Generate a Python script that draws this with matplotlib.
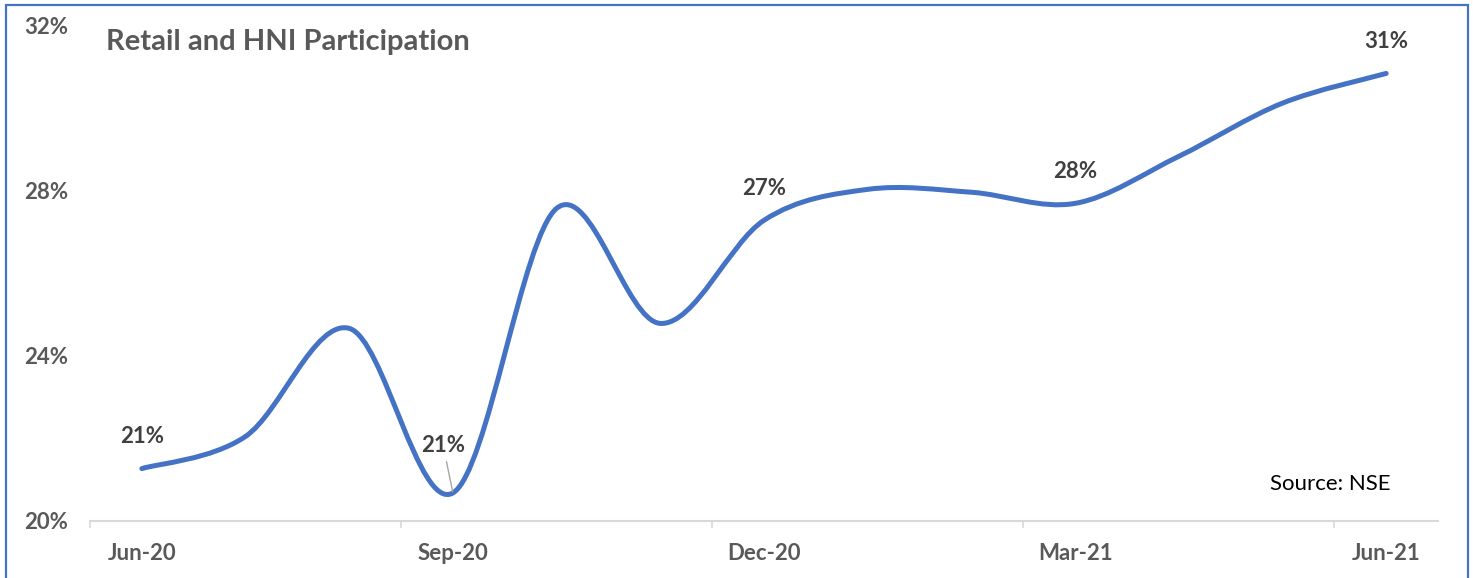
import matplotlib
matplotlib.use("Agg")
import matplotlib.pyplot as plt
from matplotlib.path import Path
from matplotlib.patches import PathPatch, Rectangle

plt.rcParams["font.family"] = ["Lato", "DejaVu Sans"]

months = ["Jun-20", "Jul-20", "Aug-20", "Sep-20", "Oct-20", "Nov-20", "Dec-20",
          "Jan-21", "Feb-21", "Mar-21", "Apr-21", "May-21", "Jun-21"]
participation = [21.27, 22.05, 24.67, 20.68, 27.58, 24.79, 27.29,
                 28.04, 27.97, 27.70, 28.84, 30.13, 30.85]
labelled = [0, 3, 6, 9, 12]
tick_months = [0, 3, 6, 9, 12]

LINE = "#4472C4"
GREY = "#595959"
DARK = "#404040"
AXIS = "#D9D9D9"

W, H = 1473, 578
fig = plt.figure(figsize=(W / 100, H / 100), dpi=100)
ax = fig.add_axes([90 / W, 1 - 521 / H, (1438 - 90) / W, (521 - 26) / H])

# smoothed line (Excel style bezier through the points)
xs = list(range(len(participation)))
pts = list(zip(xs, participation))
verts = [pts[0]]
codes = [Path.MOVETO]
for i in range(len(pts) - 1):
    p0 = pts[max(i - 1, 0)]
    p1 = pts[i]
    p2 = pts[i + 1]
    p3 = pts[min(i + 2, len(pts) - 1)]
    c1 = (p1[0] + (p2[0] - p0[0]) / 6, p1[1] + (p2[1] - p0[1]) / 6)
    c2 = (p2[0] - (p3[0] - p1[0]) / 6, p2[1] - (p3[1] - p1[1]) / 6)
    verts += [c1, c2, p2]
    codes += [Path.CURVE4] * 3
ax.add_patch(PathPatch(Path(verts, codes), fill=False, edgecolor=LINE,
                       lw=3.6, capstyle="round", joinstyle="round"))

for i in labelled:
    txt = f"{participation[i]:.0f}%"
    if i == 3:
        ax.annotate(txt, (xs[i], participation[i]), xytext=(-7, 34),
                    textcoords="offset points", ha="center", va="center",
                    fontsize=16, fontweight="bold", color=DARK,
                    arrowprops=dict(arrowstyle="-", color="#A6A6A6", lw=1,
                                    shrinkA=2, shrinkB=1))
    else:
        ax.annotate(txt, (xs[i], participation[i]), xytext=(0, 23),
                    textcoords="offset points", ha="center", va="center",
                    fontsize=16, fontweight="bold", color=DARK)

ax.set_xlim(-0.5, 12.5)
ax.set_ylim(20, 32)
ax.set_yticks([20, 24, 28, 32])
ax.set_yticklabels([f"{v}%" for v in [20, 24, 28, 32]])
ax.tick_params(axis="y", length=0, pad=16, labelsize=16, labelcolor=GREY)
for lab in ax.get_yticklabels():
    lab.set_fontweight("bold")

ax.set_xticks([m - 0.5 for m in tick_months])
ax.set_xticklabels([])
ax.set_xticks(tick_months, minor=True)
ax.set_xticklabels([months[m] for m in tick_months], minor=True)
ax.tick_params(axis="x", which="major", length=5, width=1.2, color=AXIS)
ax.tick_params(axis="x", which="minor", length=0, pad=15.5, labelsize=16,
               labelcolor=GREY)
for lab in ax.get_xticklabels(minor=True):
    lab.set_fontweight("bold")

for side in ["top", "right", "left"]:
    ax.spines[side].set_visible(False)
ax.spines["bottom"].set_color(AXIS)
ax.spines["bottom"].set_linewidth(1.5)
ax.patch.set_alpha(0)

fig.text(106 / W, 1 - 50 / H, "Retail and HNI Participation", fontsize=21,
         fontweight="bold", color=GREY, va="baseline")
fig.text(1270 / W, 1 - 490 / H, "Source: NSE", fontsize=16, color="black",
         va="baseline")

fig.patches.append(Rectangle((6 / W, -0.05), (1468 - 6) / W, 1.05 - 5 / H,
                             transform=fig.transFigure, fill=False,
                             edgecolor=LINE, lw=1.6))

fig.savefig("out.png", dpi=100)
